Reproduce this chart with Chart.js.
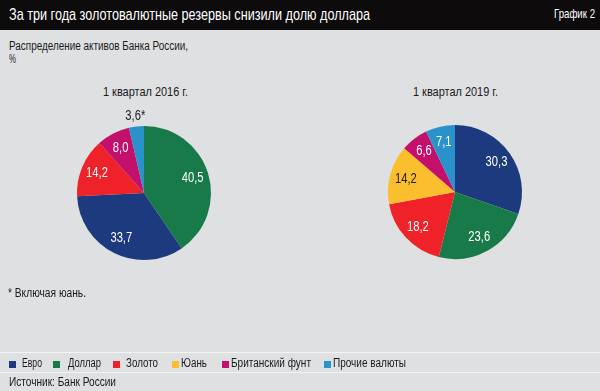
<!DOCTYPE html>
<html><head><meta charset="utf-8">
<script src="https://cdn.jsdelivr.net/npm/chart.js@4"></script>
<style>
html,body{margin:0;padding:0;}
body{width:600px;height:391px;background:#dfe0e2;position:relative;overflow:hidden;font-family:"Liberation Sans",Arial,sans-serif;color:#1a1a1a;}
.t{position:absolute;white-space:nowrap;transform-origin:0 0;}
#hdr{position:absolute;left:0;top:0;width:600px;height:30px;background:#0e0b0c;}
#legend{position:absolute;left:0;top:352px;width:600px;height:19px;border-top:1px solid #f4f4f4;border-bottom:1px solid #f4f4f4;}
.sq{position:absolute;width:7px;height:7px;top:361px;}
.pc{position:absolute;}
</style></head><body>
<div id="hdr"></div>
<div class="t" data-w="361" style="left:9px;top:5px;font-size:17px;color:#fff">За три года золотовалютные резервы снизили долю доллара</div>
<div class="t" data-w="41" style="left:554px;top:6px;font-size:13px;color:#fff">График 2</div>
<div class="t" data-w="179" style="left:9px;top:39px;font-size:12.5px;">Распределение активов Банка России,</div>
<div class="t" data-w="7" style="left:9px;top:52px;font-size:12.5px;">%</div>
<div class="t" data-w="85" style="left:103px;top:84px;font-size:13px;">1 квартал 2016 г.</div>
<div class="t" data-w="85" style="left:413px;top:84px;font-size:13px;">1 квартал 2019 г.</div>
<div class="pc" style="left:44px;top:93px;width:200px;height:200px"><canvas id="c1" width="200" height="200"></canvas></div>
<div class="pc" style="left:355px;top:92px;width:200px;height:200px"><canvas id="c2" width="200" height="200"></canvas></div>
<div class="t" data-w="78" style="left:8px;top:286px;font-size:12px;">* Включая юань.</div>
<div id="legend"></div>
<div class="t" data-w="107" style="left:9px;top:375px;font-size:12.5px;">Источник: Банк России</div>
<script>
// Data
const seriesNames = ["Евро","Доллар","Золото","Юань","Британский фунт","Прочие валюты"];
const seriesColors = ["#1c3a7d","#177a48","#ef2129","#fbbe2c","#c3106b","#2a92cb"];
const labels2016 = ["Доллар","Евро","Золото","Британский фунт","Прочие валюты"];
const values2016 = [40.5,33.7,14.2,8.0,3.6];
const text2016 = ["40,5","33,7","14,2","8,0","3,6*"];
const labels2019 = ["Евро","Доллар","Золото","Юань","Британский фунт","Прочие валюты"];
const values2019 = [30.3,23.6,18.2,14.2,6.6,7.1];
const text2019 = ["30,3","23,6","18,2","14,2","6,6","7,1"];

const colorOf = n => seriesColors[seriesNames.indexOf(n)];

// legend layout
const legendSq = [9,53,113,172,222,324];
const legendTx = [22,68,126,181,231,333];
const legendW = [20,33,32,26,80,73];
seriesNames.forEach((n,i)=>{
  const s=document.createElement('div');s.className='sq';s.style.left=legendSq[i]+'px';s.style.background=seriesColors[i];
  document.body.appendChild(s);
  const d=document.createElement('div');d.className='t';d.style.left=legendTx[i]+'px';d.style.top='356px';
  d.style.fontSize='12.5px';d.dataset.w=legendW[i];d.textContent=n;document.body.appendChild(d);
});
// condense text to match the narrow typeface of the original
document.querySelectorAll('.t').forEach(el=>{
  const w=el.getBoundingClientRect().width;
  el.style.transform='scaleX('+(parseFloat(el.dataset.w)/w)+')';
});

const labelPlugin = {
  id:'sliceLabels',
  afterDatasetsDraw(chart, args, opts){
    const ctx=chart.ctx;
    const meta=chart.getDatasetMeta(0);
    ctx.save();
    ctx.font='14px "Liberation Sans",Arial,sans-serif';
    ctx.textAlign='center';ctx.textBaseline='middle';
    meta.data.forEach((arc,i)=>{
      const p=arc.getProps(['x','y','startAngle','endAngle','outerRadius'],true);
      const mid=(p.startAngle+p.endAngle)/2;
      const frac=(p.endAngle-p.startAngle)/(2*Math.PI);
      const out=frac<0.05;
      const rr=p.outerRadius*(out?1.15:0.76);
      const name=chart.data.labels[i];
      ctx.fillStyle= (out||name==="Юань") ? '#1a1a1a' : '#ffffff';
      ctx.save();
      ctx.translate(p.x+Math.cos(mid)*rr,p.y+Math.sin(mid)*rr);
      ctx.scale(0.8,1);
      ctx.fillText(opts.texts[i],0,0);
      ctx.restore();
    });
    ctx.restore();
  }
};

function makePie(id, labels, values, texts){
  new Chart(document.getElementById(id),{
    type:'pie',
    data:{labels:labels,datasets:[{data:values,backgroundColor:labels.map(colorOf),borderWidth:0}]},
    options:{responsive:false,animation:false,layout:{padding:33},
      plugins:{legend:{display:false},tooltip:{enabled:false},sliceLabels:{texts:texts}}},
    plugins:[labelPlugin]
  });
}
makePie('c1',labels2016,values2016,text2016);
makePie('c2',labels2019,values2019,text2019);
</script>
</body></html>
